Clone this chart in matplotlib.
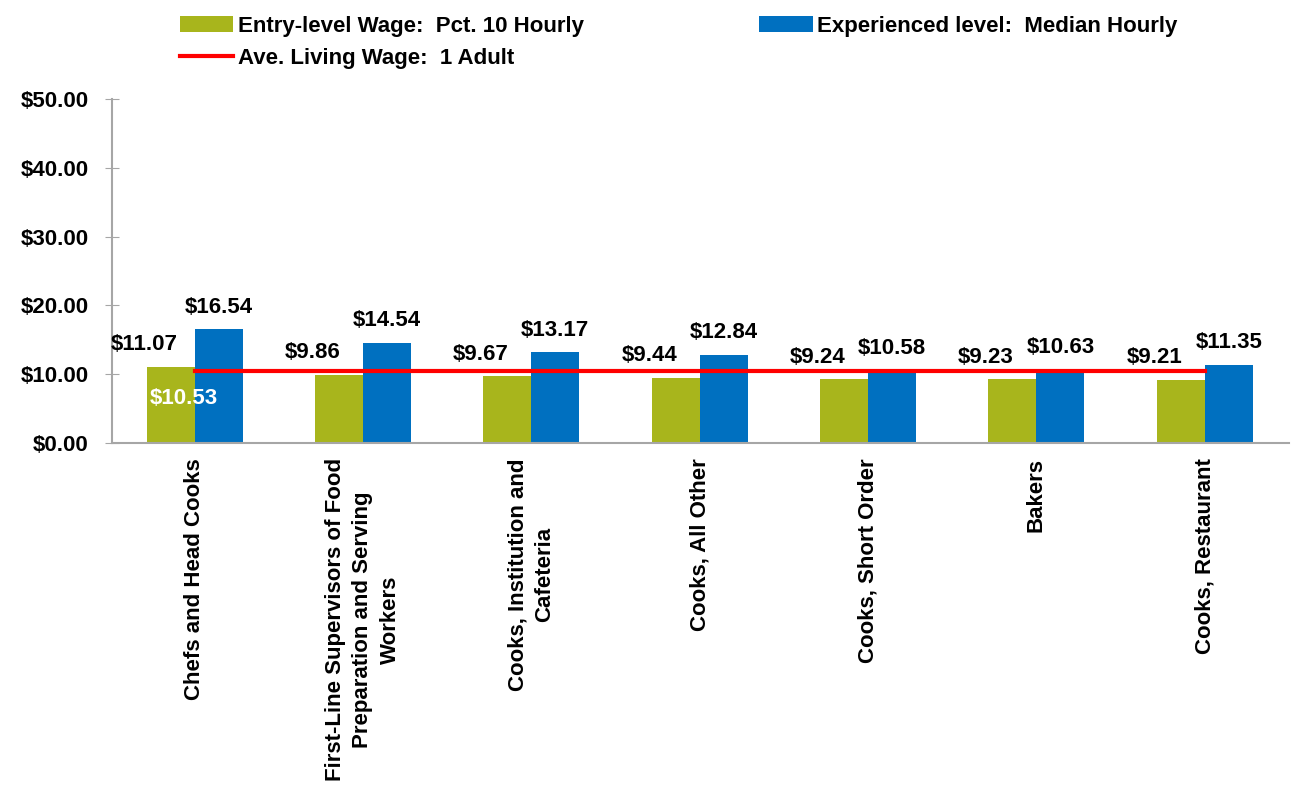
import matplotlib
matplotlib.use('Agg')
import matplotlib.pyplot as plt
import numpy as np

plt.rcParams['font.family'] = ['Liberation Sans', 'DejaVu Sans']
plt.rcParams['font.weight'] = 'bold'

# Données
categories = ['Chefs and Head Cooks',
              'First-Line Supervisors of Food\nPreparation and Serving\nWorkers',
              'Cooks, Institution and\nCafeteria',
              'Cooks, All Other',
              'Cooks, Short Order',
              'Bakers',
              'Cooks, Restaurant']
entry_wage = [11.07, 9.86, 9.67, 9.44, 9.24, 9.23, 9.21]
median_wage = [16.54, 14.54, 13.17, 12.84, 10.58, 10.63, 11.35]
living_wage = [10.53] * 7
yticks = [0, 10, 20, 30, 40, 50]

green = '#A8B51C'
blue = '#0070C0'
red = '#FF0000'
fs = 16

fig = plt.figure(figsize=(12.92, 7.85), dpi=100)
ax = fig.add_axes([0.0867, 0.4357, 0.911, 0.4382])

x = np.arange(len(categories))
w = 0.285
b1 = ax.bar(x - w / 2, entry_wage, w, color=green, label='Entry-level Wage:  Pct. 10 Hourly')
b2 = ax.bar(x + w / 2, median_wage, w, color=blue, label='Experienced level:  Median Hourly')
ln, = ax.plot(x, living_wage, color=red, lw=3, label='Ave. Living Wage:  1 Adult')

# Étiquettes des barres
for i in range(len(x)):
    ax.annotate(f'${entry_wage[i]:.2f}', (x[i] - w / 2, entry_wage[i]), xytext=(-19, 12),
                textcoords='offset points', ha='center', va='baseline', fontsize=fs, fontweight='bold')
    ax.annotate(f'${median_wage[i]:.2f}', (x[i] + w / 2, median_wage[i]), xytext=(0, 12),
                textcoords='offset points', ha='center', va='baseline', fontsize=fs, fontweight='bold')
ax.annotate(f'${living_wage[0]:.2f}', (x[0], living_wage[0]), xytext=(-8, -24),
            textcoords='offset points', ha='center', va='baseline', fontsize=fs, fontweight='bold',
            color='white')

ax.set_ylim(0, 50)
ax.set_xlim(-0.49, 6.5)
ax.set_yticks(yticks)
ax.set_yticklabels([f'${v:.2f}' for v in yticks], fontsize=fs, fontweight='bold')
ax.set_xticks(x)
ax.set_xticklabels(categories, rotation=90, fontsize=fs, fontweight='bold', ha='center', va='top',
                   multialignment='center', linespacing=1.4)
ax.tick_params(axis='x', length=0, pad=11)
ax.tick_params(axis='y', direction='inout', length=10, color='#A6A6A6', pad=12)
for s in ['top', 'right']:
    ax.spines[s].set_visible(False)
for s in ['left', 'bottom']:
    ax.spines[s].set_color('#A6A6A6')
    ax.spines[s].set_linewidth(1.5)

fig.legend(handles=[b1, ln, b2], loc='upper left', bbox_to_anchor=(180 / 1292, 1 - 16 / 785), ncol=2,
           frameon=False, columnspacing=7.9, handlelength=2.4, handletextpad=0.2, labelspacing=0.5,
           borderpad=0, borderaxespad=0, prop={'weight': 'bold', 'size': fs})

fig.savefig('out.png', dpi=100)
